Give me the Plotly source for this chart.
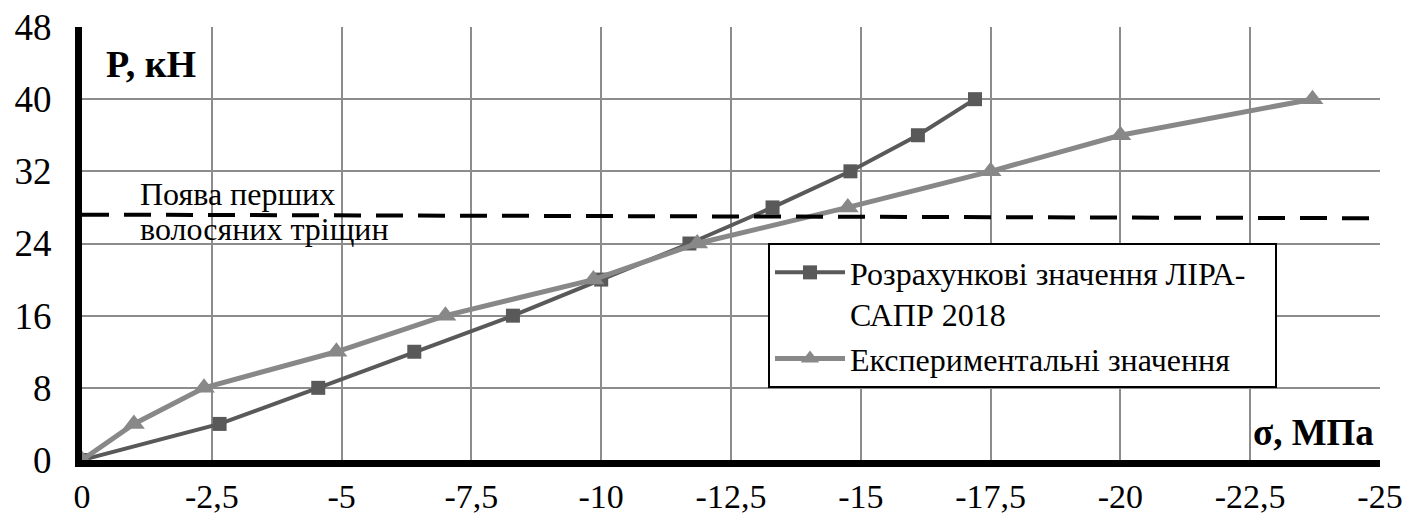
import plotly.graph_objects as go

# ---- data ----
load_kn = [0, 4, 8, 12, 16, 20, 24, 28, 32, 36, 40]
sigma_lira = [0, -2.65, -4.55, -6.4, -8.3, -10.0, -11.7, -13.3, -14.8, -16.1, -17.2]
sigma_exp = [0, -1.0, -2.35, -4.9, -7.0, -9.85, -11.85, -14.75, -17.5, -20.0, -23.7]
name_lira = "Розрахункові значення ЛІРА-&nbsp;&nbsp;&nbsp;<br>САПР 2018"
name_exp = "Експериментальні значення"
x_tickvals = [0, -2.5, -5, -7.5, -10, -12.5, -15, -17.5, -20, -22.5, -25]
x_ticktext = ["0", "-2,5", "-5", "-7,5", "-10", "-12,5", "-15", "-17,5", "-20", "-22,5", "-25"]
y_tickvals = [0, 8, 16, 24, 32, 40, 48]
crack_level = [27.2, 26.8]
crack_text = ["Поява перших", "волосяних тріщин"]

FONT = "Liberation Serif"

fig = go.Figure()
fig.add_trace(go.Scatter(
    x=sigma_lira, y=load_kn, name=name_lira, mode="lines+markers",
    line=dict(color="#595959", width=4),
    marker=dict(symbol="square", size=14, color="#595959"),
))
fig.add_trace(go.Scatter(
    x=sigma_exp, y=load_kn, name=name_exp, mode="lines+markers",
    line=dict(color="#888888", width=5),
    marker=dict(symbol="triangle-up", size=19, color="#888888"),
))

fig.add_shape(type="line", xref="x", yref="y", x0=0, x1=-25,
              y0=crack_level[0], y1=crack_level[1],
              line=dict(color="black", width=4, dash="27px,15px"), layer="above")

for txt, yy in zip(crack_text, [29.5, 25.6]):
    fig.add_annotation(x=-1.07, y=yy, xref="x", yref="y", xanchor="left", yanchor="middle",
                       text=txt, showarrow=False, align="left",
                       font=dict(family=FONT, size=32, color="black"))
fig.add_annotation(x=-0.42, y=43.9, xref="x", yref="y", xanchor="left", yanchor="middle",
                   text="<b>P, кН</b>", showarrow=False,
                   font=dict(family=FONT, size=38, color="black"))
fig.add_annotation(x=-24.93, y=3.0, xref="x", yref="y", xanchor="right", yanchor="middle",
                   text="<b>σ, МПа</b>", showarrow=False,
                   font=dict(family=FONT, size=37, color="black"))

fig.update_layout(
    width=1418, height=518,
    margin=dict(l=82, r=38, t=27, b=58, autoexpand=False),
    paper_bgcolor="white", plot_bgcolor="white",
    font=dict(family=FONT, color="black"),
    showlegend=True,
    legend=dict(
        x=0.5285, y=0.501, xanchor="left", yanchor="top",
        bgcolor="white", bordercolor="black", borderwidth=2,
        font=dict(family=FONT, size=32, color="black"),
        valign="top", tracegroupgap=0, itemwidth=70,
    ),
)
fig.update_xaxes(
    range=[0, -25], tickvals=x_tickvals, ticktext=x_ticktext, automargin=False,
    showgrid=True, gridcolor="#8c8c8c", gridwidth=1.5, zeroline=False,
    showline=True, linecolor="black", linewidth=7, ticks="",
    tickfont=dict(family=FONT, size=34, color="black"), ticklabelstandoff=0,
)
fig.update_yaxes(
    range=[0, 48], tickvals=y_tickvals, automargin=False,
    showgrid=True, gridcolor="#8c8c8c", gridwidth=1.5, zeroline=False,
    showline=True, linecolor="black", linewidth=7, ticks="",
    tickfont=dict(family=FONT, size=37, color="black"), ticklabelstandoff=16,
)

fig.write_html("out.html")
